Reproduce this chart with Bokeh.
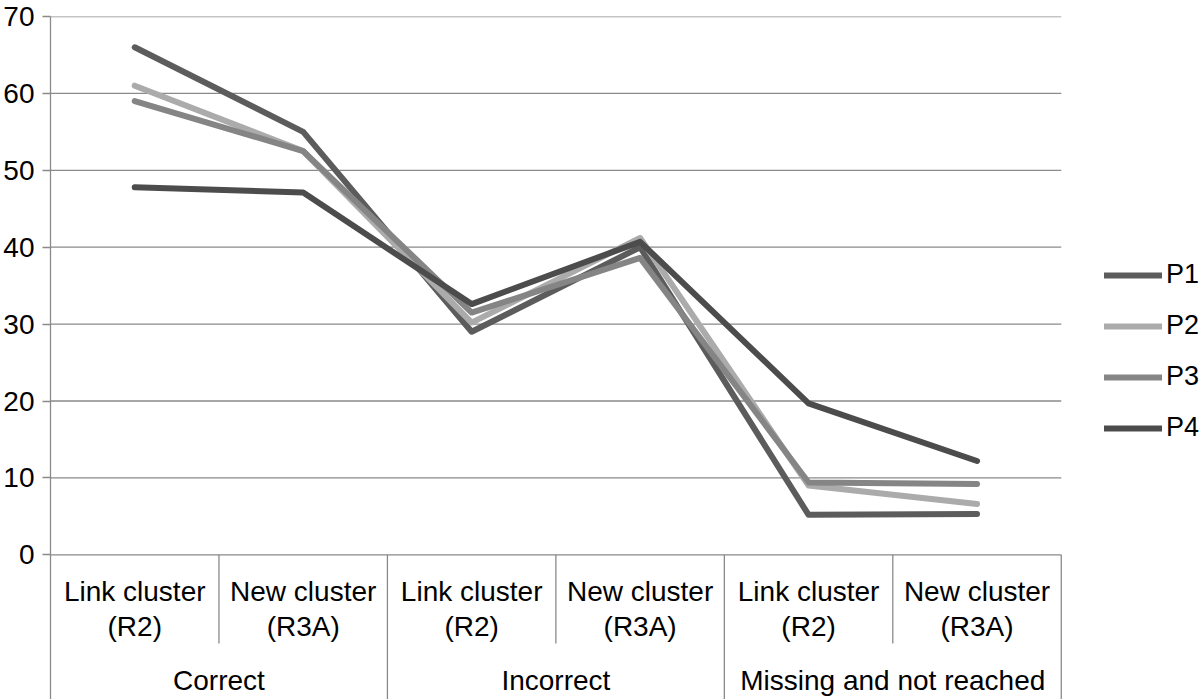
from bokeh.plotting import figure
from bokeh.models import Range1d, FixedTicker, Legend, LegendItem
from bokeh.core.properties import value
from bokeh.embed import file_html
from bokeh.resources import INLINE

# ---- data ----
groups = ["Correct", "Incorrect", "Missing and not reached"]
subgroups = ["Link cluster (R2)", "New cluster (R3A)"]
series_names = ["P1", "P2", "P3", "P4"]
p1 = [66.0, 55.0, 29.0, 40.0, 5.2, 5.3]
p2 = [61.0, 52.5, 30.2, 41.2, 9.0, 6.6]
p3 = [59.0, 52.5, 31.5, 38.6, 9.4, 9.2]
p4 = [47.8, 47.1, 32.6, 40.7, 19.7, 12.2]
y_ticks = [0, 10, 20, 30, 40, 50, 60, 70]

colors = ["#5c5c5c", "#ababab", "#858585", "#4c4c4c"]
FONT = value("Liberation Sans")
FS = "28px"
GRID = "#8a8a8a"

W, H = 1200, 699
TOP = 16
LEFT = 47
CAT_PX = 168.9                        # pixel width of one category
PX_PER_UNIT = 538.3 / 70.0            # pixel scale of the value axis
Y_MAX = max(y_ticks)
Y_MIN = Y_MAX - (H - TOP) / PX_PER_UNIT


def px(n):
    return n / PX_PER_UNIT


n_sub = len(subgroups)
n_cat = len(groups) * n_sub
xs = [i + 0.5 for i in range(n_cat)]
X_MAX = (W - LEFT) / CAT_PX

p = figure(width=W, height=H, output_backend="svg", toolbar_location=None,
           x_range=Range1d(0, X_MAX), y_range=Range1d(Y_MIN, Y_MAX),
           x_axis_location=None, min_border_top=TOP, min_border_bottom=0,
           min_border_left=LEFT, min_border_right=0)
p.outline_line_color = None
p.background_fill_color = "white"
p.border_fill_color = "white"
p.xgrid.visible = False
p.ygrid.visible = False

ax = p.yaxis[0]
ax.ticker = FixedTicker(ticks=y_ticks)
ax.axis_line_color = GRID
ax.axis_line_width = 1.3
ax.major_tick_line_color = GRID
ax.major_tick_line_width = 1.3
ax.major_tick_out = 8
ax.major_tick_in = 0
ax.minor_tick_line_color = None
ax.major_label_text_font = "Liberation Sans"
ax.major_label_text_font_size = FS
ax.major_label_text_color = "black"
ax.major_label_standoff = 8

# horizontal gridlines across the category area only
p.segment(x0=[0] * len(y_ticks), y0=y_ticks, x1=[n_cat] * len(y_ticks), y1=y_ticks,
          line_color=GRID, line_width=1.3)

# category separators and labels
sep_x, sep_y1 = [], []
for k in range(1, n_cat + 1):
    sep_x.append(k)
    sep_y1.append(-px(88.7) if k % n_sub else Y_MIN)
p.segment(x0=sep_x, y0=[0] * len(sep_x), x1=sep_x, y1=sep_y1,
          line_color=GRID, line_width=1.3)

line1 = [s.split(" (")[0] for s in subgroups] * len(groups)
line2 = ["(" + s.split(" (")[1] for s in subgroups] * len(groups)
p.text(x=xs, y=[-px(36.7)] * n_cat, text=line1, text_font=FONT, text_font_size=FS,
       text_align="center", text_baseline="middle", text_color="black")
p.text(x=xs, y=[-px(72.0)] * n_cat, text=line2, text_font=FONT, text_font_size=FS,
       text_align="center", text_baseline="middle", text_color="black")
gx = [g * n_sub + n_sub / 2 for g in range(len(groups))]
p.text(x=gx, y=[-px(125.7)] * len(groups), text=groups, text_font=FONT, text_font_size=FS,
       text_align="center", text_baseline="middle", text_color="black")

items = []
for name, vals, c in zip(series_names, [p1, p2, p3, p4], colors):
    r = p.line(xs, vals, line_color=c, line_width=6, line_join="round", line_cap="round")
    items.append(LegendItem(label=name, renderers=[r]))

legend = Legend(items=items, location=(1054, 256), glyph_width=58, glyph_height=26,
                label_height=26, spacing=20, padding=0, margin=0, label_standoff=4,
                label_text_font="Liberation Sans", label_text_font_size="27px",
                label_text_color="black", border_line_color=None,
                background_fill_alpha=0)
p.add_layout(legend, "center")

open("out.html", "w").write(file_html(p, INLINE))
